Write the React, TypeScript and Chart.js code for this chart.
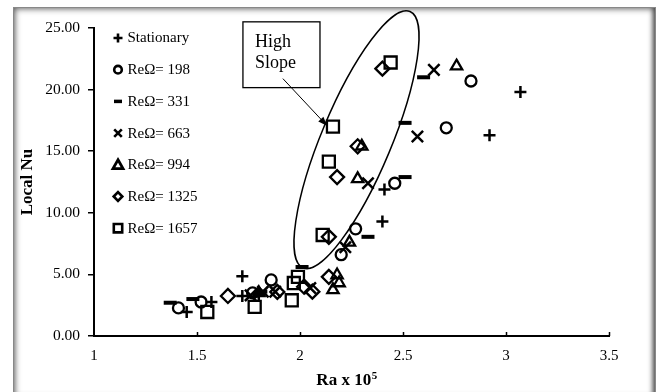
import React, { useEffect, useRef } from "react";
import { Chart, registerables } from "chart.js";
Chart.register(...registerables);

// ---- axis ticks ----
const xTickValues = [1, 1.5, 2, 2.5, 3, 3.5];
const yTickValues = [0, 5, 10, 15, 20, 25];
const xTitle = "Ra x 10";
const xTitleSup = "5";
const yTitle = "Local Nu";

// ---- series labels ----
const seriesLabels = ["Stationary", "ReΩ= 198", "ReΩ= 331", "ReΩ= 663", "ReΩ= 994", "ReΩ= 1325", "ReΩ= 1657"];

// ---- series values (Ra x 1e-5, Local Nu) ----
const stationaryX = [1.45, 1.57, 1.72, 1.72, 1.80, 2.40, 2.41, 2.92, 3.07];
const stationaryY = [1.95, 2.76, 3.25, 4.85, 3.4, 9.3, 11.9, 16.3, 19.8];

const re198X = [1.41, 1.52, 1.77, 1.86, 2.20, 2.27, 2.46, 2.71, 2.83];
const re198Y = [2.28, 2.76, 3.5, 4.55, 6.6, 8.7, 12.4, 16.9, 20.7];

const re331X = [1.37, 1.48, 1.81, 2.01, 2.33, 2.51, 2.51, 2.60];
const re331Y = [2.7, 3.0, 3.6, 5.6, 8.05, 12.9, 17.3, 21.0];

const re663X = [1.76, 1.82, 1.88, 2.05, 2.22, 2.33, 2.57, 2.65];
const re663Y = [3.3, 3.6, 3.6, 3.9, 7.2, 12.4, 16.2, 21.6];

const re994X = [1.80, 2.16, 2.18, 2.19, 2.24, 2.28, 2.30, 2.76];
const re994Y = [3.5, 3.74, 4.95, 4.3, 7.6, 12.75, 15.4, 21.9];

const re1325X = [1.65, 1.89, 2.02, 2.06, 2.14, 2.14, 2.18, 2.28, 2.40];
const re1325Y = [3.25, 3.58, 4.0, 3.6, 4.8, 8.05, 12.9, 15.4, 21.7];

const re1657X = [1.55, 1.78, 1.96, 1.97, 1.99, 2.11, 2.14, 2.16, 2.44];
const re1657Y = [1.95, 2.36, 2.9, 4.3, 4.8, 8.2, 14.15, 17.0, 22.2];

// ---- annotation (data coordinates) ----
const boxLabelLines = ["High", "Slope"];
const boxCorners = { x1: 1.723, y1: 25.5, x2: 2.097, y2: 20.16 };
const arrowFrom = { x: 1.917, y: 20.89 };
const arrowTo = { x: 2.131, y: 17.07 };
const ellipseEnds = { x1: 2.0146, y1: 5.53, x2: 2.534, y2: 26.34 };

const toPts = (xs: number[], ys: number[]) => xs.map((x, i) => ({ x, y: ys[i] }));

const styles = ["cross", "circle", "line", "crossRot", "triangle", "rectRot", "rect"];
const radii = [6, 5.5, 6.5, 8, 6.5, 7, 8.5];
const widths = [2.5, 2.3, 4, 2.5, 2.3, 2.3, 2.3];
const seriesData = [
  toPts(stationaryX, stationaryY),
  toPts(re198X, re198Y),
  toPts(re331X, re331Y),
  toPts(re663X, re663Y),
  toPts(re994X, re994Y),
  toPts(re1325X, re1325Y),
  toPts(re1657X, re1657Y),
];

const SERIF = '"Liberation Serif", "Times New Roman", serif';

function drawMarker(ctx: CanvasRenderingContext2D, style: string, x: number, y: number, s: number) {
  ctx.beginPath();
  switch (style) {
    case "cross":
      ctx.moveTo(x - s, y); ctx.lineTo(x + s, y);
      ctx.moveTo(x, y - s); ctx.lineTo(x, y + s);
      break;
    case "circle":
      ctx.arc(x, y, s, 0, Math.PI * 2);
      break;
    case "line":
      ctx.moveTo(x - s, y); ctx.lineTo(x + s, y);
      break;
    case "crossRot":
      ctx.moveTo(x - s, y - s); ctx.lineTo(x + s, y + s);
      ctx.moveTo(x + s, y - s); ctx.lineTo(x - s, y + s);
      break;
    case "triangle":
      ctx.moveTo(x, y - s); ctx.lineTo(x + s, y + s * 0.75); ctx.lineTo(x - s, y + s * 0.75); ctx.closePath();
      break;
    case "rectRot":
      ctx.moveTo(x - s, y); ctx.lineTo(x, y - s); ctx.lineTo(x + s, y); ctx.lineTo(x, y + s); ctx.closePath();
      break;
    case "rect":
      ctx.rect(x - s, y - s, 2 * s, 2 * s);
      break;
  }
  ctx.stroke();
}

const overlayPlugin = {
  id: "overlay",
  afterDraw(chart: any) {
    const ctx: CanvasRenderingContext2D = chart.ctx;
    const xs = chart.scales.x;
    const ys = chart.scales.y;
    ctx.save();
    ctx.strokeStyle = "#000";
    ctx.fillStyle = "#000";

    // inside x tick marks
    ctx.lineWidth = 1.5;
    for (const v of xTickValues) {
      if (v === xTickValues[0]) continue;
      const px = Math.round(xs.getPixelForValue(v)) + 0.5;
      ctx.beginPath();
      ctx.moveTo(px, ys.bottom);
      ctx.lineTo(px, ys.bottom - 4);
      ctx.stroke();
    }

    // y title
    ctx.font = `bold 17px ${SERIF}`;
    ctx.textAlign = "center";
    ctx.textBaseline = "middle";
    ctx.save();
    ctx.translate(28, (ys.top + ys.bottom) / 2);
    ctx.rotate(-Math.PI / 2);
    ctx.fillText(yTitle, 0, 0);
    ctx.restore();

    // x title with superscript
    ctx.textAlign = "left";
    ctx.textBaseline = "alphabetic";
    ctx.font = `bold 17px ${SERIF}`;
    const w1 = ctx.measureText(xTitle).width;
    ctx.font = `bold 11px ${SERIF}`;
    const w2 = ctx.measureText(xTitleSup).width;
    const cx = (xs.left + xs.right) / 2 - 5;
    const sx = cx - (w1 + w2) / 2;
    ctx.font = `bold 17px ${SERIF}`;
    ctx.fillText(xTitle, sx, 385);
    ctx.font = `bold 11px ${SERIF}`;
    ctx.fillText(xTitleSup, sx + w1 + 0.5, 379);

    // legend
    const legX = xs.left + 24;
    const legTop = ys.top + 10;
    const legStep = 31.7;
    const legSizes = [4.5, 3.8, 4, 3.8, 5, 4.3, 4.2];
    const legWidths = [2.6, 2.6, 3.5, 2.6, 2.8, 2.6, 2.6];
    ctx.font = `15px ${SERIF}`;
    ctx.textBaseline = "middle";
    seriesLabels.forEach((lab, i) => {
      const y = legTop + i * legStep;
      ctx.lineWidth = legWidths[i];
      drawMarker(ctx, styles[i], legX, y, legSizes[i]);
      ctx.fillText(lab, legX + 9.5, y + 0.5);
    });

    // annotation box
    const bx1 = xs.getPixelForValue(boxCorners.x1);
    const by1 = ys.getPixelForValue(boxCorners.y1);
    const bx2 = xs.getPixelForValue(boxCorners.x2);
    const by2 = ys.getPixelForValue(boxCorners.y2);
    ctx.lineWidth = 1.3;
    ctx.strokeRect(bx1, by1, bx2 - bx1, by2 - by1);
    ctx.font = `18px ${SERIF}`;
    ctx.textBaseline = "alphabetic";
    ctx.textAlign = "left";
    ctx.fillText(boxLabelLines[0], bx1 + 12, by1 + 25);
    ctx.fillText(boxLabelLines[1], bx1 + 12, by1 + 46);

    // arrow
    const ax1 = xs.getPixelForValue(arrowFrom.x);
    const ay1 = ys.getPixelForValue(arrowFrom.y);
    const ax2 = xs.getPixelForValue(arrowTo.x);
    const ay2 = ys.getPixelForValue(arrowTo.y);
    const ang = Math.atan2(ay2 - ay1, ax2 - ax1);
    const hl = 9, hw = 3.5;
    ctx.lineWidth = 1;
    ctx.beginPath();
    ctx.moveTo(ax1, ay1);
    ctx.lineTo(ax2 - Math.cos(ang) * hl * 0.8, ay2 - Math.sin(ang) * hl * 0.8);
    ctx.stroke();
    ctx.beginPath();
    ctx.moveTo(ax2, ay2);
    ctx.lineTo(ax2 - Math.cos(ang) * hl - Math.sin(ang) * hw, ay2 - Math.sin(ang) * hl + Math.cos(ang) * hw);
    ctx.lineTo(ax2 - Math.cos(ang) * hl + Math.sin(ang) * hw, ay2 - Math.sin(ang) * hl - Math.cos(ang) * hw);
    ctx.closePath();
    ctx.fill();

    // ellipse
    const ex1 = xs.getPixelForValue(ellipseEnds.x1);
    const ey1 = ys.getPixelForValue(ellipseEnds.y1);
    const ex2 = xs.getPixelForValue(ellipseEnds.x2);
    const ey2 = ys.getPixelForValue(ellipseEnds.y2);
    const ecx = (ex1 + ex2) / 2;
    const ecy = (ey1 + ey2) / 2;
    const semiMajor = Math.hypot(ex2 - ex1, ey2 - ey1) / 2;
    const rot = Math.atan2(ex2 - ex1, ey1 - ey2);
    ctx.lineWidth = 1.5;
    ctx.beginPath();
    ctx.ellipse(ecx, ecy, 35, semiMajor, rot, 0, Math.PI * 2);
    ctx.stroke();

    ctx.restore();
  },
};

export default function App() {
  const ref = useRef<HTMLCanvasElement>(null);
  useEffect(() => {
    if (!ref.current) return;
    const chart = new Chart(ref.current, {
      type: "scatter",
      data: {
        datasets: seriesData.map((d, i) => ({
          label: seriesLabels[i],
          data: d,
          pointStyle: styles[i] as any,
          pointRadius: radii[i],
          pointHoverRadius: radii[i],
          borderColor: "#000",
          backgroundColor: "rgba(0,0,0,0)",
          pointBorderWidth: widths[i],
          borderWidth: widths[i],
          showLine: false,
        })),
      },
      options: {
        responsive: false,
        animation: false,
        events: [],
        layout: { padding: { left: 0, top: 28, right: 50, bottom: 0 } },
        plugins: {
          legend: { display: false },
          tooltip: { enabled: false },
          title: { display: false },
        },
        scales: {
          x: {
            type: "linear",
            min: 1,
            max: 3.5,
            afterBuildTicks: (s: any) => {
              s.ticks = xTickValues.map((v) => ({ value: v }));
            },
            afterFit: (s: any) => {
              s.height = 56;
            },
            ticks: {
              callback: (v: any) => String(v),
              font: { family: SERIF, size: 15 },
              color: "#000",
              padding: 11,
              maxRotation: 0,
              autoSkip: false,
            },
            grid: { display: true, drawOnChartArea: false, drawTicks: false },
            border: { display: true, color: "#000", width: 2 },
          },
          y: {
            type: "linear",
            min: 0,
            max: 25,
            afterBuildTicks: (s: any) => {
              s.ticks = yTickValues.map((v) => ({ value: v }));
            },
            afterFit: (s: any) => {
              s.width = 94;
            },
            ticks: {
              callback: (v: any) => Number(v).toFixed(2),
              font: { family: SERIF, size: 15.5 },
              color: "#000",
              padding: 8,
              autoSkip: false,
            },
            grid: { display: true, drawOnChartArea: false, drawTicks: true, tickLength: 6, color: "#000", lineWidth: 1.5 },
            border: { display: true, color: "#000", width: 2 },
          },
        },
      },
      plugins: [overlayPlugin],
    });
    return () => chart.destroy();
  }, []);

  return (
    <div style={{ position: "fixed", left: 0, top: 0, width: 659, height: 392, overflow: "hidden", background: "#fff" }}>
      <div
        style={{
          position: "absolute",
          left: 13,
          top: 7,
          width: 643,
          height: 395,
          boxSizing: "border-box",
          border: "1px solid #888",
          boxShadow:
            "inset 0 0 6px 1px rgba(0,0,0,0.55), inset 0 -6px 6px -2px rgba(0,0,0,0.45), inset -4px 0 5px -2px rgba(0,0,0,0.4)",
        }}
      />
      <canvas ref={ref} width={659} height={392} style={{ position: "absolute", left: 0, top: 0, width: 659, height: 392 }} />
    </div>
  );
}
